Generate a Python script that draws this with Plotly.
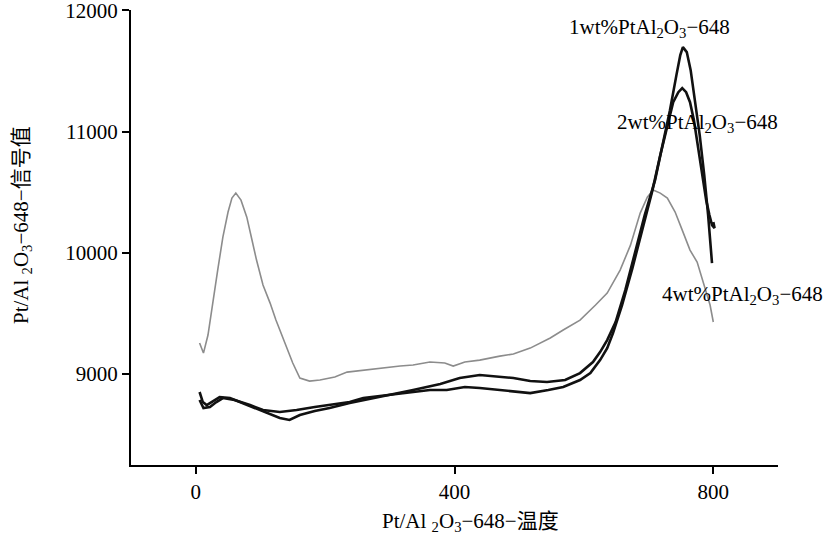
import plotly.graph_objects as go

# 4wt% Pt/Al2O3-648 (gray)
t4 = [6, 12, 19, 26, 34, 42, 50, 56, 62, 70, 79, 87, 94, 104, 115, 124, 130, 141, 150, 161,
      176, 192, 215, 234, 261, 285, 316, 336, 362, 385, 398, 416, 439, 470, 491, 517, 548,
      568, 594, 618, 636, 656, 672, 687, 698, 707, 718, 729, 741, 752, 764, 775, 786, 795, 800]
s4 = [9256, 9173, 9322, 9585, 9857, 10129, 10336, 10451, 10492, 10434, 10294, 10105, 9940,
      9734, 9585, 9445, 9363, 9198, 9091, 8967, 8942, 8951, 8975, 9016, 9033, 9049, 9066,
      9074, 9099, 9091, 9066, 9099, 9115, 9148, 9165, 9214, 9297, 9363, 9445, 9569, 9668,
      9857, 10063, 10327, 10459, 10517, 10492, 10451, 10336, 10187, 10022, 9923, 9734, 9569, 9429]

# 1wt% Pt/Al2O3-648
t1 = [6, 11, 17, 26, 37, 53, 79, 99, 130, 145, 161, 184, 207, 238, 285, 336, 378, 408, 439,
      470, 491, 517, 543, 571, 594, 614, 625, 636, 649, 664, 679, 694, 710, 722, 733, 743,
      749, 753, 759, 765, 771, 779, 786, 792, 798]
s1 = [8852, 8769, 8744, 8777, 8810, 8802, 8744, 8703, 8637, 8621, 8662, 8695, 8720, 8761,
      8810, 8868, 8918, 8967, 8992, 8975, 8967, 8942, 8934, 8951, 9008, 9099, 9181, 9280,
      9429, 9692, 9998, 10311, 10599, 10904, 11176, 11465, 11630, 11696, 11655, 11506,
      11275, 10970, 10641, 10311, 9915]

# 2wt% Pt/Al2O3-648
t2 = [6, 12, 22, 32, 42, 60, 84, 104, 130, 156, 184, 207, 238, 259, 300, 336, 362, 388, 416,
      439, 470, 517, 545, 568, 594, 610, 625, 636, 645, 659, 675, 690, 706, 718, 729, 738,
      746, 752, 758, 764, 770, 775, 780, 784, 789, 794, 798, 802, 800]
s2 = [8786, 8720, 8728, 8769, 8802, 8786, 8744, 8703, 8687, 8703, 8728, 8744, 8769, 8802,
      8827, 8852, 8868, 8868, 8893, 8885, 8868, 8843, 8868, 8893, 8951, 9008, 9115, 9214,
      9338, 9569, 9874, 10187, 10517, 10805, 11053, 11242, 11324, 11358, 11324, 11242,
      11094, 10929, 10764, 10599, 10434, 10311, 10228, 10204, 10253]

x_ticks = [0, 400, 800]
x_tick_labels = ["0", "400", "800"]
y_ticks = [9000, 10000, 11000, 12000]
y_tick_labels = ["9000", "10000", "11000", "12000"]

SERIF = "Liberation Serif, Times New Roman, serif"
CJK_SERIF = "Liberation Serif, Noto Sans CJK SC, serif"
FS = 21

fig = go.Figure()
fig.add_trace(go.Scatter(x=t4, y=s4, mode="lines",
                         line=dict(color="#8c8c8c", width=1.6), showlegend=False))
fig.add_trace(go.Scatter(x=t2, y=s2, mode="lines",
                         line=dict(color="#111111", width=2.6), showlegend=False))
fig.add_trace(go.Scatter(x=t1, y=s1, mode="lines",
                         line=dict(color="#111111", width=2.6), showlegend=False))

fig.update_layout(
    width=826, height=545,
    margin=dict(l=131, r=48, t=10, b=80, autoexpand=False),
    plot_bgcolor="white", paper_bgcolor="white",
    font=dict(family=SERIF, size=FS, color="black"),
    xaxis=dict(range=[-100, 900], tickmode="array", tickvals=x_ticks, ticktext=x_tick_labels,
               showgrid=False, zeroline=False, automargin=False,
               showline=True, linecolor="black", linewidth=2,
               ticks="outside", ticklen=7, tickwidth=2, tickcolor="black",
               ticklabeloverflow="allow",
               tickfont=dict(family=SERIF, size=FS, color="black")),
    yaxis=dict(range=[8250, 12002], tickmode="array", tickvals=y_ticks, ticktext=y_tick_labels,
               showgrid=False, zeroline=False, automargin=False,
               showline=True, linecolor="black", linewidth=2,
               ticks="outside", ticklen=7, tickwidth=2, tickcolor="black",
               ticklabeloverflow="allow",
               tickfont=dict(family=SERIF, size=FS, color="black")),
)

label_font = dict(family=SERIF, size=FS, color="black")
fig.add_annotation(x=702, y=11852, xref="x", yref="y", showarrow=False,
                   text="1wt%PtAl<sub>2</sub>O<sub>3</sub>−648", font=label_font)
fig.add_annotation(x=775, y=11069, xref="x", yref="y", showarrow=False,
                   text="2wt%PtAl<sub>2</sub>O<sub>3</sub>−648", font=label_font)
fig.add_annotation(x=845, y=9651, xref="x", yref="y", showarrow=False,
                   text="4wt%PtAl<sub>2</sub>O<sub>3</sub>−648", font=label_font)

fig.add_annotation(x=(470 - 131) / 647, y=(465 - 522) / 455, xref="paper", yref="paper",
                   showarrow=False, xanchor="center", yanchor="middle",
                   text="Pt/Al <sub>2</sub>O<sub>3</sub>−648−温度",
                   font=dict(family=CJK_SERIF, size=FS, color="black"))
fig.add_annotation(x=(22 - 131) / 647, y=(465 - 225) / 455, xref="paper", yref="paper",
                   showarrow=False, xanchor="center", yanchor="middle", textangle=-90,
                   text="Pt/Al <sub>2</sub>O<sub>3</sub>−648−信号值",
                   font=dict(family=CJK_SERIF, size=FS, color="black"))

fig.write_html("out.html")
